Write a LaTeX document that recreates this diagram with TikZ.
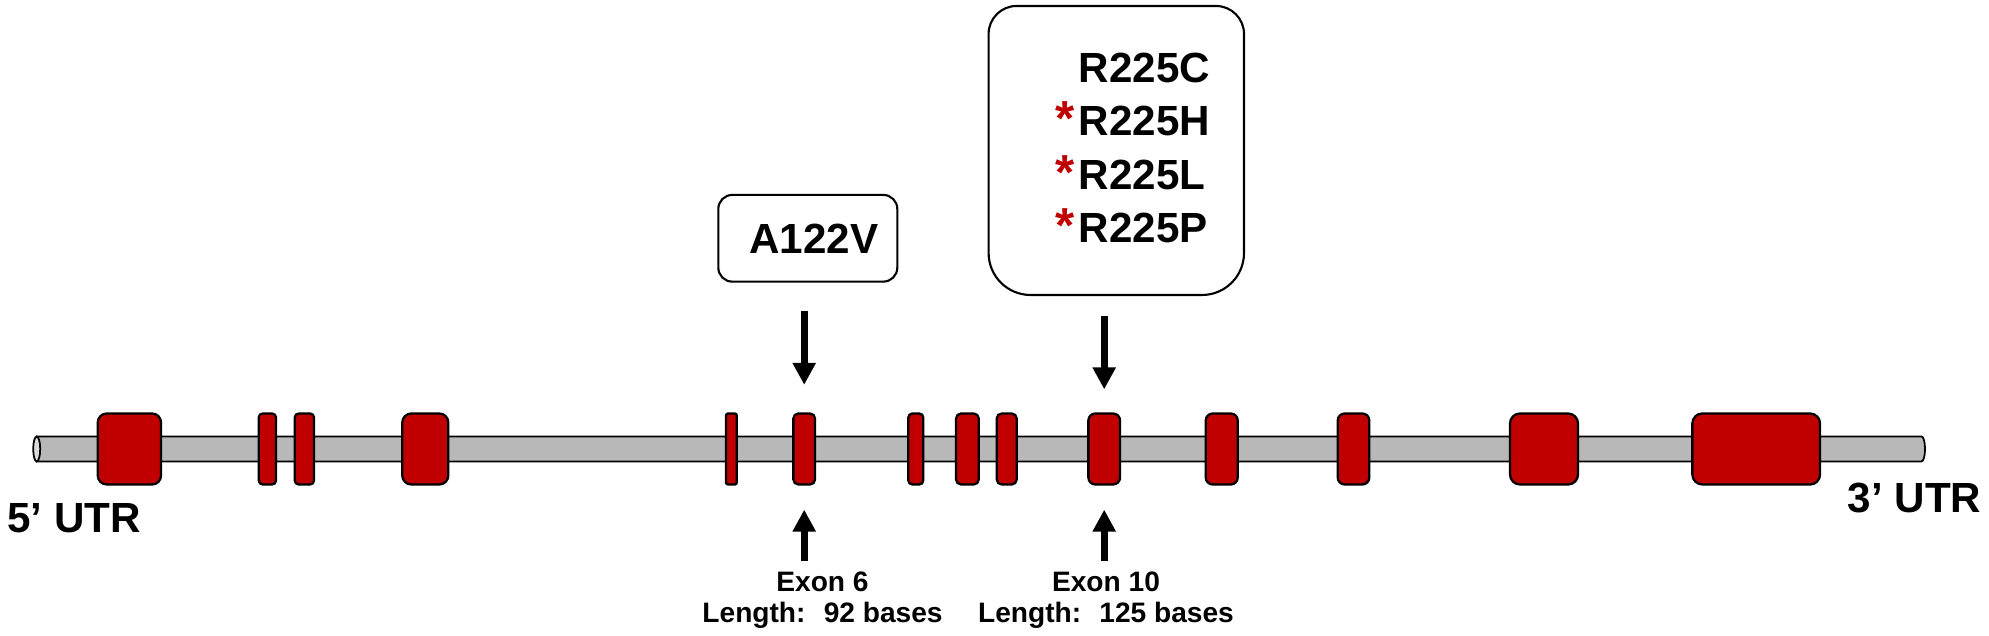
\documentclass[tikz,border=0pt]{standalone}
\usepackage{fontspec}
\setmainfont{Liberation Sans}
\usetikzlibrary{arrows.meta}
\definecolor{exonred}{HTML}{C00000}
\definecolor{intron}{HTML}{B8B8B8}
\definecolor{capface}{HTML}{DADADA}
\newcommand{\redstar}{\llap{\textcolor{exonred}{\fontsize{14}{15.1}\selectfont*}\kern0.04cm}}

\begin{document}
\begin{tikzpicture}[
  exon/.style={draw=black,line width=0.65pt,fill=exonred,minimum height=0.71cm,inner sep=0pt},
  mutbox/.style={draw=black,line width=0.6pt},
  pointer/.style={line width=2.1pt,-{Triangle[width=0.22cm,length=0.22cm]}},
  bigtext/.style={font=\fontsize{12}{15.1}\selectfont\bfseries,inner sep=0pt},
  smalltext/.style={font=\fontsize{8}{9}\selectfont\bfseries,inner sep=0pt,align=center}
]
\useasboundingbox (0,0) rectangle (19.89,6.36);
\draw[line width=0.5pt,fill=intron] (0.367,1.995) -- (19.215,1.995) arc[start angle=90,end angle=-90,x radius=0.035,y radius=0.125] -- (0.367,1.745) -- cycle;
\draw[line width=0.5pt,fill=capface] (0.367,1.87) ellipse [x radius=0.035,y radius=0.125];
\foreach \n/\x/\w/\r in {1/1.294/0.633/0.09, 2/2.674/0.173/0.04, 3/3.044/0.193/0.04,
  4/4.253/0.46/0.09, 5/7.314/0.107/0.02, 6/8.042/0.217/0.05, 7/9.158/0.15/0.04,
  8/9.674/0.227/0.05, 9/10.067/0.20/0.05, 10/11.042/0.317/0.07, 11/12.217/0.32/0.07,
  12/13.535/0.316/0.07, 13/15.44/0.68/0.1, 14/17.562/1.277/0.1}
  \node[exon,minimum width=\w cm,rounded corners=\r cm] (e\n) at (\x,1.87) {};
\node[bigtext,anchor=base west] (utr5) at (0.067,1.03) {5’ UTR};
\node[bigtext,anchor=base east] (utr3) at (19.82,1.23) {3’ UTR};

\node[mutbox,bigtext,rounded corners=0.14cm,minimum width=1.79cm,minimum height=0.867cm] (boxA) at (8.078,3.977) {\hspace*{0.12cm}A122V};
\node[inner sep=0pt,minimum width=2.54cm,minimum height=2.876cm] (boxR) at (11.163,4.855) {};
\draw[mutbox] (boxR.north) [rounded corners=0.28cm] -- (boxR.north east) [rounded corners=0.42cm] -- (boxR.south east) -- (boxR.south west) [rounded corners=0.28cm] -- (boxR.north west) -- cycle;
\node[bigtext,align=left,anchor=west] (muts) at (10.78,4.88) {R225C\\\redstar R225H\\\redstar R225L\\\redstar R225P};

\draw[pointer,shorten <=0.28cm,shorten >=0.275cm] (boxA.south -| e6.north) -- (e6.north);
\draw[pointer,shorten <=0.21cm,shorten >=0.23cm] (boxR.south -| e10.north) -- (e10.north);

\node[smalltext,anchor=north] (lab6) at (8.225,0.65) {Exon 6\\Length:~ 92 bases};
\node[smalltext,anchor=north] (lab10) at (11.06,0.65) {Exon 10\\Length:~ 125 bases};
\draw[pointer,shorten <=0.1cm,shorten >=0.24cm] (e6.south |- lab6.north) -- (e6.south);
\draw[pointer,shorten <=0.1cm,shorten >=0.24cm] (e10.south |- lab10.north) -- (e10.south);

\end{tikzpicture}
\end{document}
